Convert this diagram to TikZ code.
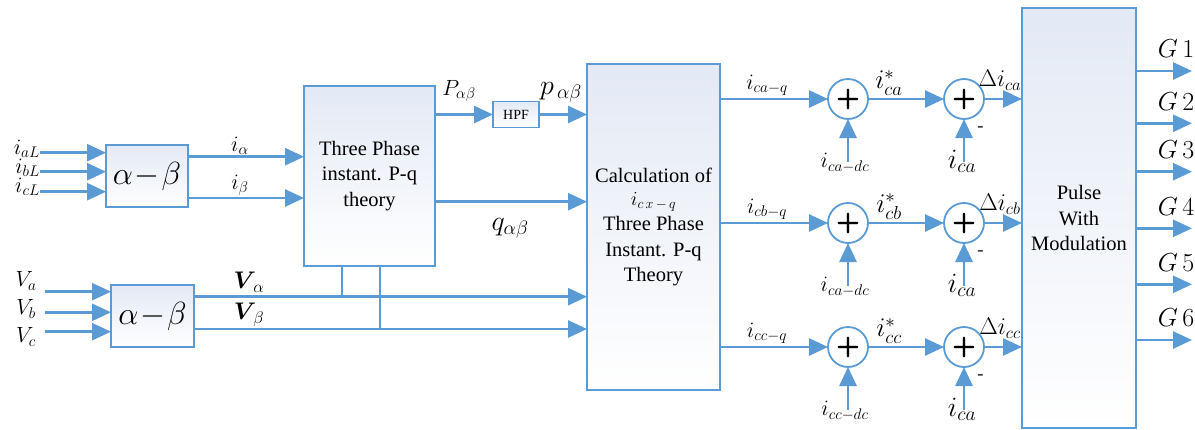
\RequirePackage{fix-cm}
\documentclass[tikz,border=0pt]{standalone}
\usepackage{amsmath}
\usepackage{fontspec}
\setmainfont{Liberation Serif}
\usetikzlibrary{arrows.meta}
\definecolor{lb}{HTML}{5B9BD5}
\definecolor{boxtop}{HTML}{E3E9F5}
\begin{document}
\begin{tikzpicture}[x=1pt,y=-1pt,
 line/.style={draw=lb, line width=2.6pt},
 arr/.style={line, -{Triangle[length=19pt,width=17pt]}},
 blk/.style={draw=lb, line width=1.8pt, top color=boxtop, bottom color=white, inner sep=0pt, outer sep=0pt, align=center, font=\fontsize{20.5}{25.5}\selectfont},
 sumnode/.style={circle, draw=lb, line width=1.8pt, minimum size=40pt, inner sep=0pt, outer sep=0pt, fill=white, font=\sffamily\bfseries\fontsize{28}{28}\selectfont},
 ml/.style={inner sep=0pt, font=\fontsize{22}{22}\selectfont},
 gl/.style={inner sep=0pt, font=\fontsize{26}{26}\selectfont}
]
\useasboundingbox (0,0) rectangle (1195,429);

% blocks
\node[blk, minimum width=82pt, minimum height=62pt, font=\fontsize{32}{32}\selectfont] (ab1) at (147,176) {$\alpha\!-\!\beta$};
\node[blk, minimum width=83pt, minimum height=62pt, font=\fontsize{32}{32}\selectfont] (ab2) at (152.5,316) {$\alpha\!-\!\beta$};
\node[blk, minimum width=131pt, minimum height=180pt] (tp) at (369.5,176) {Three Phase\\instant. P-q\\theory};
\node[blk, minimum width=46pt, minimum height=26pt, font=\fontsize{14}{14}\selectfont] (hpf) at (516,114.5) {HPF};
\node[blk, minimum width=133pt, minimum height=326pt] (calc) at (653.5,227) {Calculation of\\[-3pt]{\fontsize{20}{20}\selectfont$i_{c\,x\,-\,q}$}\\Three Phase\\Instant. P-q\\Theory};
\node[blk, minimum width=114pt, minimum height=420pt] (pwm) at (1079,218) {Pulse\\With\\Modulation};

% left inputs
\coordinate (ia) at (40,152.7);
\coordinate (ib) at (40,171.7);
\coordinate (ic) at (40,191.7);
\draw[arr] (ia) -- (ia -| ab1.west);
\draw[arr] (ib) -- (ib -| ab1.west);
\draw[arr] (ic) -- (ic -| ab1.west);
\node[ml, anchor=east] at (40,149) {$i_{aL}$};
\node[ml, anchor=east] at (40,168) {$i_{bL}$};
\node[ml, anchor=east] at (40,187) {$i_{cL}$};

\coordinate (va) at (45,291.7);
\coordinate (vb) at (45,312.3);
\coordinate (vc) at (45,331.7);
\draw[arr] (va) -- (va -| ab2.west);
\draw[arr] (vb) -- (vb -| ab2.west);
\draw[arr] (vc) -- (vc -| ab2.west);
\node[ml] at (26,281) {$V_{a}$};
\node[ml] at (26,309) {$V_{b}$};
\node[ml] at (26,337) {$V_{c}$};

% i alpha beta
\coordinate (yal) at (0,156.7);
\coordinate (ybe) at (0,198);
\draw[arr] (ab1.east |- yal) -- (tp.west |- yal);
\draw[arr] (ab1.east |- ybe) -- (tp.west |- ybe);
\node[ml] at (240,146) {$i_{\alpha}$};
\node[ml] at (240,185) {$i_{\beta}$};

% V alpha beta
\coordinate (j1) at (342,296.7);
\coordinate (j2) at (380,329);
\draw[arr] (ab2.east |- j1) -- (calc.west |- j1);
\draw[arr] (ab2.east |- j2) -- (calc.west |- j2);
\draw[line] (j1 |- tp.south) -- (j1);
\draw[line] (j2 |- tp.south) -- (j2);
\node[ml, font=\fontsize{24}{24}\selectfont] at (249,282) {$\boldsymbol{V}_{\!\alpha}$};
\node[ml, font=\fontsize{24}{24}\selectfont] at (249,315) {$\boldsymbol{V}_{\!\beta}$};

% P q
\draw[arr] (tp.east |- hpf) -- (hpf.west);
\draw[arr] (hpf.east) -- (calc.west |- hpf);
\coordinate (yq) at (0,201.7);
\draw[arr] (tp.east |- yq) -- (calc.west |- yq);
\node[ml] at (459,91) {$P_{\alpha\beta}$};
\node[ml, font=\fontsize{28}{28}\selectfont] at (561,92) {$p_{\,\alpha\beta}$};
\node[ml, font=\fontsize{28}{28}\selectfont] at (510,228) {$q_{\alpha\beta}$};

% summing rows
\foreach \r/\y/\s/\d/\lab in {a/99/ca/ca/{a},b/223/cb/ca/{b},c/347/cc/cc/{c}}{
  \node[sumnode] (s1\r) at (848,\y) {+};
  \node[sumnode] (s2\r) at (964,\y) {+};
  \draw[arr] (calc.east |- s1\r) -- (s1\r.west);
  \draw[arr] (s1\r.east) -- (s2\r.west);
  \draw[arr] (s2\r.east) -- (pwm.west |- s2\r);
  \coordinate (d1\r) at (848,\y+63);
  \coordinate (d2\r) at (964,\y+63);
  \draw[arr] (d1\r) -- (s1\r.south);
  \draw[arr] (d2\r) -- (s2\r.south);
  \node[ml] at (767,\y-14) {$i_{c\lab-q}$};
  \node[ml, font=\fontsize{27}{27}\selectfont] at (889,\y-16) {$i^{*}_{\s}$};
  \node[ml, font=\fontsize{24}{24}\selectfont] at (1000,\y-19) {$\Delta i_{\s}$};
  \node[ml] at (845,\y+64) {$i_{\d-dc}$};
  \node[ml, font=\fontsize{28}{28}\selectfont] at (962,\y+62) {$i_{ca}$};
  \node[inner sep=0pt, font=\sffamily\bfseries\fontsize{18}{18}\selectfont] at (981,\y+30) {-};
}

% G outputs
\foreach \k/\y in {1/71,2/123.3,3/171.7,4/228.3,5/284.3,6/340}{
  \coordinate (g\k) at (1192,\y);
  \draw[arr] (pwm.east |- g\k) -- (g\k);
  \node[gl] at (1176,\y-22) {$G\,\k$};
}
\end{tikzpicture}
\end{document}
